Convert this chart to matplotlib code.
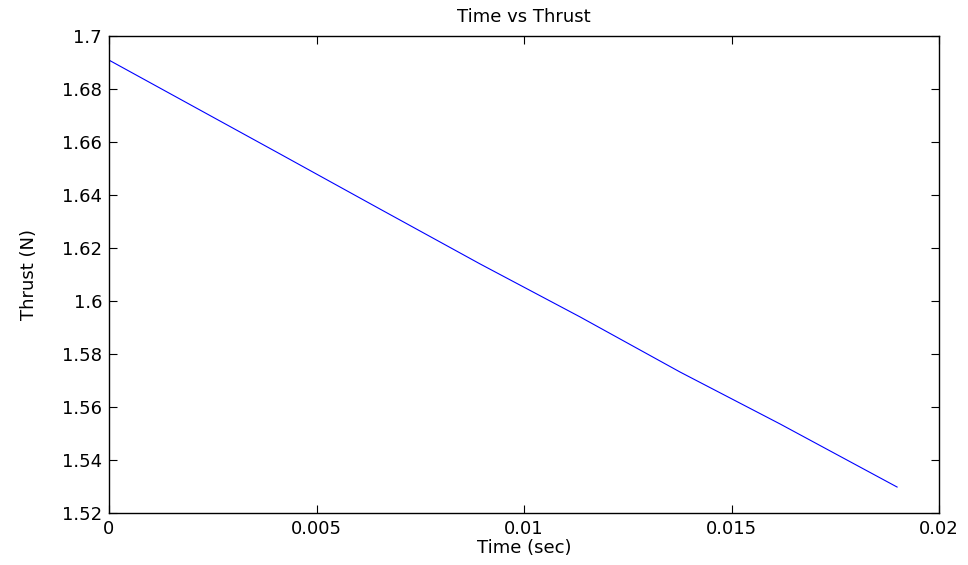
import matplotlib
matplotlib.use("Agg")
import matplotlib.pyplot as plt

time_s = [0.0, 0.00412, 0.00653, 0.00894, 0.01135, 0.01376, 0.01617, 0.01899]
thrust_n = [1.6909, 1.6555, 1.6347, 1.6140, 1.5940, 1.5732, 1.5536, 1.5298]
xticks = [0, 0.005, 0.01, 0.015, 0.02]
xtick_labels = ["0", "0.005", "0.01", "0.015", "0.02"]
yticks = [1.52, 1.54, 1.56, 1.58, 1.6, 1.62, 1.64, 1.66, 1.68, 1.7]
ytick_labels = ["1.52", "1.54", "1.56", "1.58", "1.6", "1.62", "1.64", "1.66", "1.68", "1.7"]

plt.rcParams['font.family'] = ['DejaVu Sans']
FS = 13
fig = plt.figure(figsize=(9.68, 5.65), dpi=100)
ax = fig.add_axes([109/968, 1-513/565, (939-109)/968, (513-36)/565])
ax.plot(time_s, thrust_n, color=(0, 0, 1), lw=0.8)
ax.set_xlim(0, 0.02)
ax.set_ylim(1.52, 1.7)
ax.set_xticks(xticks)
ax.set_xticklabels(xtick_labels)
ax.set_yticks(yticks)
ax.set_yticklabels(ytick_labels)
ax.tick_params(direction='in', length=6, width=0.8, labelsize=FS, top=True, right=True)
ax.tick_params(axis='x', pad=5)
ax.tick_params(axis='y', pad=5)
for s in ax.spines.values():
    s.set_linewidth(1.0)
ax.set_title("Time vs Thrust", fontsize=FS, pad=10)
ax.set_xlabel("Time (sec)", fontsize=FS)
ax.set_ylabel("Thrust (N)", fontsize=FS)
ax.xaxis.set_label_coords(0.5, (513-539)/477)
ax.yaxis.set_label_coords((38-109)/830, 0.5)
fig.savefig("out.png", dpi=100)
